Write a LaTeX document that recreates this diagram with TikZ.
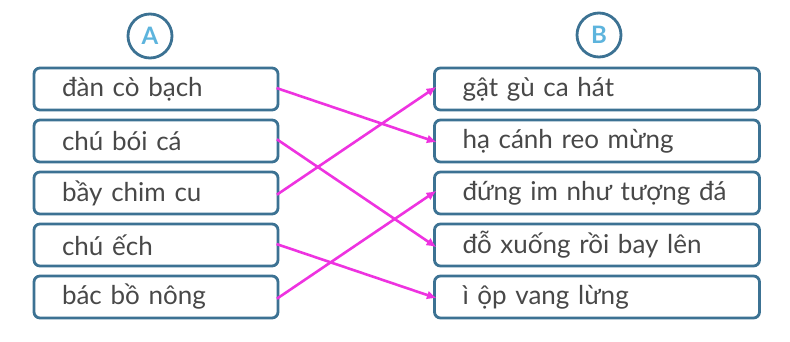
\documentclass[tikz,border=0pt]{standalone}
\usepackage{fontspec}
\setmainfont{Lato}
\usetikzlibrary{arrows.meta}
\definecolor{boxblue}{HTML}{3C7293}
\definecolor{letterblue}{HTML}{5DB4DD}
\definecolor{linkpink}{HTML}{EE33E0}
\definecolor{wordgray}{HTML}{484848}
\tikzset{
  item/.style={draw=boxblue, line width=2.8pt, rounded corners=6pt, minimum height=42pt,
    inner xsep=28pt, align=left, text=wordgray, font=\fontsize{26}{26}\selectfont},
  leftitem/.style={item, text width=188pt},
  rightitem/.style={item, text width=269pt},
  badge/.style={circle, draw=boxblue, line width=2.8pt, minimum size=44pt, inner sep=0pt,
    text=letterblue, font=\fontsize{24}{24}\selectfont\bfseries},
  link/.style={linkpink, line width=2.6pt, -{Latex[length=10pt,width=9pt]}, shorten <=-3pt, shorten >=-4pt}
}

\begin{document}
\begin{tikzpicture}[x=1pt, y=-1pt]
  \useasboundingbox (0,0) rectangle (790,341);
  % column headers
  \node[badge] (hA) at (150,36) {A};
  \node[badge] (hB) at (599,35) {B};
  % column A
  \node[leftitem] (a1) at (156,89) {đàn cò bạch};
  \node[leftitem] (a2) at (156,141) {chú bói cá};
  \node[leftitem] (a3) at (156,193) {bầy chim cu};
  \node[leftitem] (a4) at (156,245) {chú ếch};
  \node[leftitem] (a5) at (156,297) {bác bồ nông};
  % column B
  \node[rightitem] (b1) at (597,89) {gật gù ca hát};
  \node[rightitem] (b2) at (597,141) {hạ cánh reo mừng};
  \node[rightitem] (b3) at (597,193) {đứng im như tượng đá};
  \node[rightitem] (b4) at (597,245) {đỗ xuống rồi bay lên};
  \node[rightitem] (b5) at (597,297) {ì ộp vang lừng};
  % matches
  \draw[link] (a1.east) -- (b2.west);
  \draw[link] (a2.east) -- (b4.west);
  \draw[link] (a3.east) -- (b1.west);
  \draw[link] (a4.east) -- (b5.west);
  \draw[link] (a5.east) -- (b3.west);
\end{tikzpicture}
\end{document}
